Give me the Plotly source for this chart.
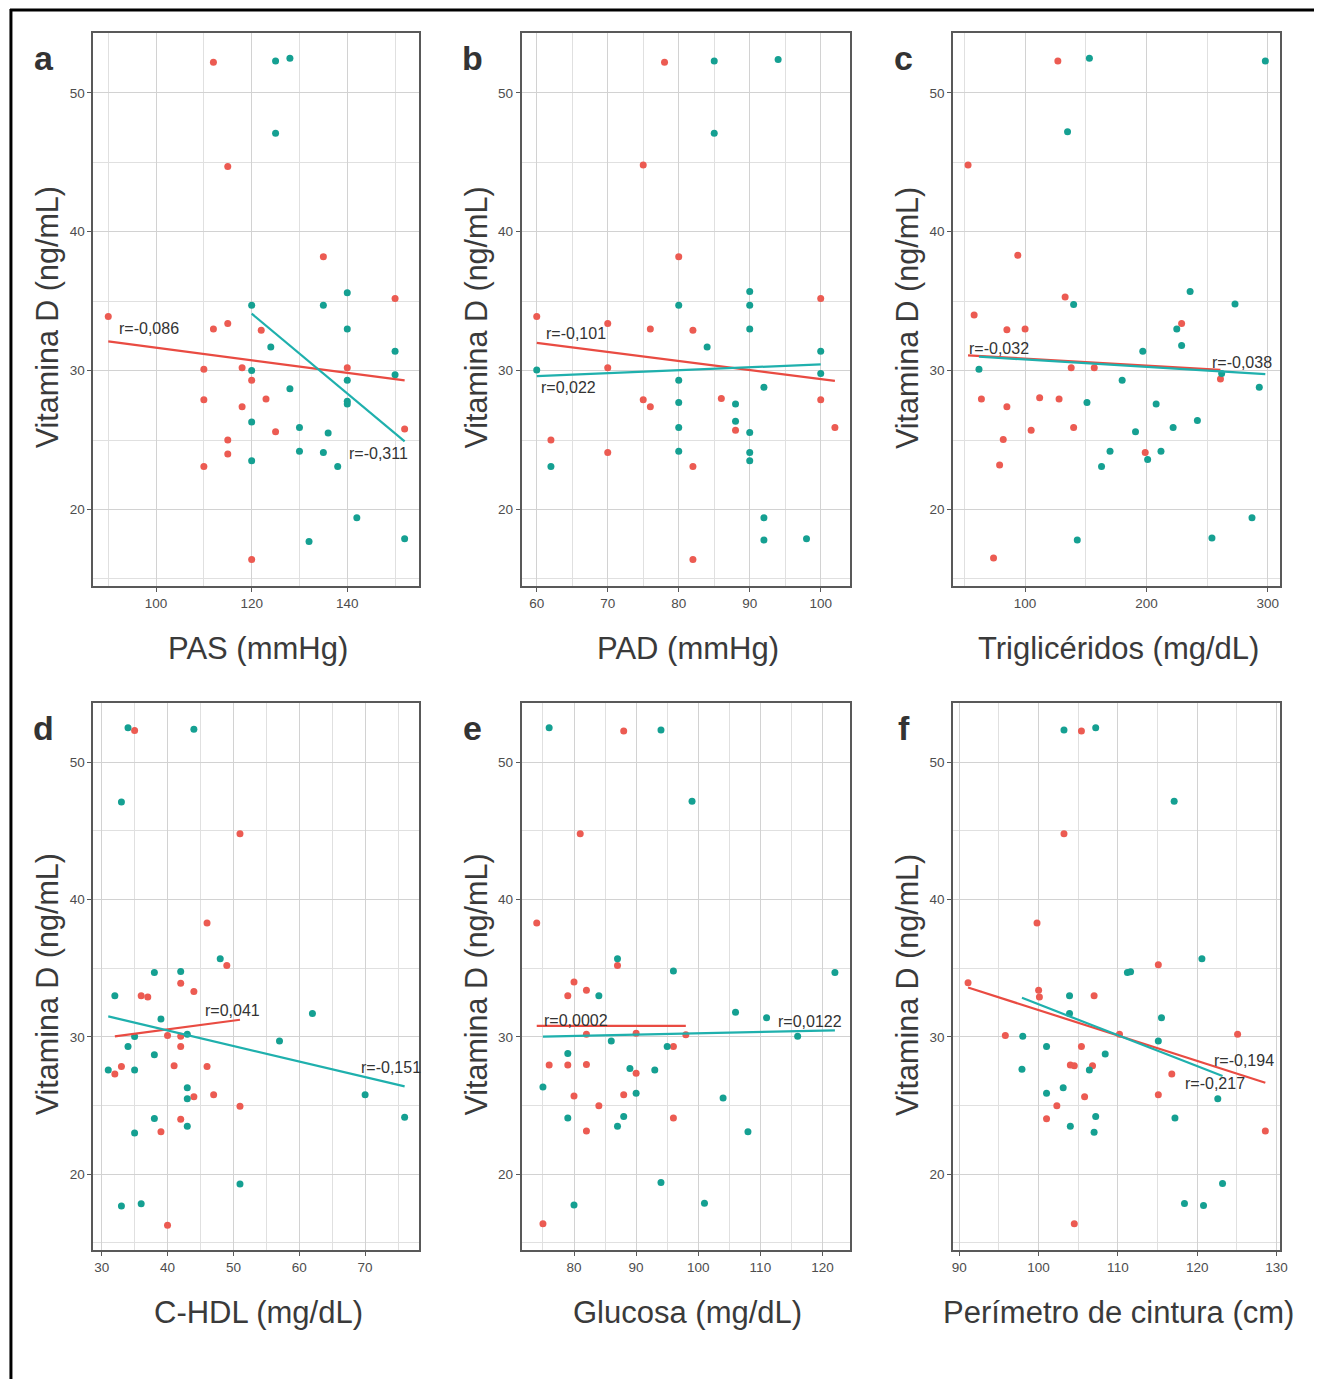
import plotly.graph_objects as go

W, H = 1321, 1379

# ---------------- data ----------------
# Panel a: PAS (mmHg)
a_red_x = [112, 115, 135, 150, 90, 112, 115, 122, 110, 118, 140, 120, 110, 123, 118, 125, 152, 115, 115, 110, 120]
a_red_y = [52.2, 44.7, 38.2, 35.2, 33.9, 33.0, 33.4, 32.9, 30.1, 30.2, 30.2, 29.3, 27.9, 27.95, 27.4, 25.6, 25.8, 25.0, 24.0, 23.1, 16.4]
a_teal_x = [125, 128, 125, 140, 120, 135, 124, 140, 150, 120, 150, 140, 128, 140, 140, 120, 130, 136, 120, 130, 135, 138, 142, 132, 152]
a_teal_y = [52.3, 52.5, 47.1, 35.6, 34.7, 34.7, 31.7, 33.0, 31.4, 30.0, 29.7, 29.3, 28.7, 27.8, 27.6, 26.3, 25.9, 25.5, 23.5, 24.2, 24.1, 23.1, 19.4, 17.7, 17.9]
a_red_fit = [32.1, 29.3]
a_teal_fit = [34.1, 24.9]
a_r_red, a_r_teal = "r=-0,086", "r=-0,311"

# Panel b: PAD (mmHg)
b_red_x = [78, 75, 80, 100, 60, 70, 76, 82, 70, 75, 76, 86, 100, 88, 102, 62, 70, 82, 82]
b_red_y = [52.2, 44.8, 38.2, 35.2, 33.9, 33.4, 33.0, 32.9, 30.2, 27.9, 27.4, 28.0, 27.9, 25.7, 25.9, 25.0, 24.1, 23.1, 16.4]
b_teal_x = [85, 94, 85, 90, 80, 90, 90, 84, 100, 60, 100, 80, 92, 80, 88, 88, 80, 90, 80, 90, 90, 62, 92, 92, 98]
b_teal_y = [52.3, 52.4, 47.1, 35.7, 34.7, 34.7, 33.0, 31.7, 31.4, 30.05, 29.8, 29.3, 28.8, 27.7, 27.6, 26.35, 25.9, 25.55, 24.2, 24.1, 23.5, 23.1, 19.4, 17.8, 17.9]
b_red_fit = [32.0, 29.26]
b_teal_fit = [29.6, 30.45]
b_r_red, b_r_teal = "r=-0,101", "r=0,022"

# Panel c: Triglicéridos (mg/dL)
c_red_x = [127, 53, 94, 133, 58, 85, 100, 229, 138, 157, 261, 64, 112, 128, 85, 105, 140, 82, 199, 79, 74]
c_red_y = [52.3, 44.8, 38.3, 35.3, 34.0, 32.95, 33.0, 33.4, 30.2, 30.2, 29.4, 27.96, 28.04, 27.96, 27.4, 25.7, 25.9, 25.04, 24.1, 23.2, 16.5]
c_teal_x = [153, 298, 135, 236, 140, 273, 225, 229, 197, 62, 262, 180, 293, 151, 208, 242, 222, 191, 170, 212, 201, 163, 287, 254, 143]
c_teal_y = [52.5, 52.3, 47.2, 35.7, 34.76, 34.8, 33.0, 31.8, 31.4, 30.1, 29.8, 29.3, 28.8, 27.7, 27.6, 26.4, 25.9, 25.6, 24.2, 24.2, 23.6, 23.1, 19.4, 17.95, 17.8]
c_red_fit = [31.1, 30.05]
c_teal_fit = [31.0, 29.75]
c_r_red, c_r_teal = "r=-0,032", "r=-0,038"

# Panel d: C-HDL (mg/dL)
d_red_x = [35, 51, 46, 49, 42, 44, 36, 37, 40, 42, 42, 33, 32, 41, 46, 44, 47, 51, 42, 39, 40]
d_red_y = [52.3, 44.8, 38.3, 35.2, 33.9, 33.3, 33.0, 32.9, 30.1, 30.05, 29.3, 27.85, 27.3, 27.9, 27.85, 25.65, 25.8, 24.95, 24.0, 23.1, 16.3]
d_teal_x = [34, 44, 33, 48, 38, 42, 32, 62, 39, 35, 43, 57, 34, 38, 31, 35, 43, 43, 70, 38, 76, 43, 35, 51, 33, 36]
d_teal_y = [52.5, 52.4, 47.1, 35.7, 34.7, 34.76, 33.0, 31.7, 31.3, 30.04, 30.2, 29.7, 29.3, 28.7, 27.6, 27.6, 26.3, 25.5, 25.8, 24.07, 24.15, 23.5, 23.0, 19.3, 17.7, 17.85]
d_red_fit = [30.04, 31.25]
d_teal_fit = [31.5, 26.4]
d_r_red, d_r_teal = "r=0,041", "r=-0,151"

# Panel e: Glucosa (mg/dL)
e_red_x = [88, 81, 74, 87, 80, 79, 82, 82, 90, 98, 96, 76, 79, 82, 90, 80, 88, 84, 96, 82, 75]
e_red_y = [52.27, 44.8, 38.3, 35.2, 34.0, 33.0, 33.4, 30.2, 30.27, 30.16, 29.3, 27.95, 27.95, 28.0, 27.36, 25.7, 25.8, 25.0, 24.1, 23.15, 16.4]
e_teal_x = [76, 94, 99, 87, 96, 122, 84, 106, 111, 116, 86, 79, 95, 89, 93, 75, 90, 104, 79, 88, 87, 108, 94, 80, 101]
e_teal_y = [52.5, 52.35, 47.15, 35.7, 34.8, 34.7, 33.0, 31.8, 31.4, 30.05, 29.7, 28.8, 29.3, 27.7, 27.6, 26.35, 25.9, 25.55, 24.1, 24.2, 23.5, 23.1, 19.4, 17.76, 17.9]
e_red_fit = [30.8, 30.8]
e_teal_fit = [30.03, 30.48]
e_r_red, e_r_teal = "r=0,0002", "r=0,0122"

# Panel f: Perímetro de cintura (cm)
f_red_x = [105.4, 103.2, 99.8, 115.1, 91.1, 100, 100.1, 107, 95.8, 110.2, 125.1, 105.4, 104, 104.5, 106.8, 116.8, 105.8, 115.1, 102.3, 101, 128.6, 104.5]
f_red_y = [52.27, 44.8, 38.3, 35.25, 33.95, 33.4, 32.9, 33.0, 30.1, 30.2, 30.2, 29.3, 27.95, 27.9, 27.9, 27.3, 25.65, 25.8, 25.0, 24.05, 23.15, 16.4]
f_teal_x = [103.2, 107.2, 117.1, 120.6, 111.2, 111.6, 103.9, 103.9, 115.5, 98, 115.1, 101, 108.4, 106.4, 97.9, 103.1, 101, 122.6, 107.2, 117.2, 104, 107, 123.2, 118.4, 120.8]
f_teal_y = [52.35, 52.5, 47.15, 35.7, 34.7, 34.75, 33.0, 31.7, 31.4, 30.05, 29.7, 29.3, 28.75, 27.6, 27.65, 26.3, 25.9, 25.5, 24.2, 24.1, 23.5, 23.07, 19.33, 17.87, 17.73]
f_red_fit = [33.6, 26.67]
f_teal_fit = [32.85, 27.15]
f_r_red, f_r_teal = "r=-0,194", "r=-0,217"

letters = ["a", "b", "c", "d", "e", "f"]
x_titles = ["PAS (mmHg)", "PAD (mmHg)", "Triglicéridos (mg/dL)",
            "C-HDL (mg/dL)", "Glucosa (mg/dL)", "Perímetro de cintura (cm)"]
y_title = "Vitamina D (ng/mL)"
x_major = [20, 10, 100, 10, 10, 10]
x_minor = [10, 5, 50, 5, 5, 5]
y_ticks = [20, 30, 40, 50]

panels = [
    (a_red_x, a_red_y, a_teal_x, a_teal_y, a_red_fit, a_teal_fit, a_r_red, a_r_teal),
    (b_red_x, b_red_y, b_teal_x, b_teal_y, b_red_fit, b_teal_fit, b_r_red, b_r_teal),
    (c_red_x, c_red_y, c_teal_x, c_teal_y, c_red_fit, c_teal_fit, c_r_red, c_r_teal),
    (d_red_x, d_red_y, d_teal_x, d_teal_y, d_red_fit, d_teal_fit, d_r_red, d_r_teal),
    (e_red_x, e_red_y, e_teal_x, e_teal_y, e_red_fit, e_teal_fit, e_r_red, e_r_teal),
    (f_red_x, f_red_y, f_teal_x, f_teal_y, f_red_fit, f_teal_fit, f_r_red, f_r_teal),
]

# label anchor positions in data units (left edge of text)
r_label_pos = [
    ((91.8, 33.0), (140.0, 24.05)),
    ((61.0, 32.7), (60.3, 28.8)),
    ((51.8, 31.6), (252.6, 30.6)),
    ((45.4, 31.9), (69.1, 27.8)),
    ((74.8, 31.2), (112.5, 31.1)),
    ((121.9, 28.27), (118.2, 26.6)),
]

# ---------------- styling / layout ----------------
RED_PT, TEAL_PT = "#ec5b52", "#15a092"
RED_LN, TEAL_LN = "#e94b42", "#1fb0ad"
FONT = "Liberation Sans, Arial, sans-serif"

col_px = [(93, 421), (524, 854), (958, 1287)]
row_px = [(33, 586), (703, 1250)]


def px2fx(p):
    return p / W


def px2fy(p):
    return 1 - p / H


fig = go.Figure()
layout = dict(
    width=W, height=H, margin=dict(l=0, r=0, t=0, b=0),
    paper_bgcolor="white", plot_bgcolor="white", showlegend=False,
    font=dict(family=FONT),
)
annotations = []
shapes = []

all_y = []
for p in panels:
    all_y += p[1] + p[3]
ymin, ymax = min(all_y), max(all_y)
yspan = ymax - ymin
y_range = [ymin - 0.05 * yspan, ymax + 0.05 * yspan]

for i, (rx, ry, tx, ty, rfit, tfit, rlab, tlab) in enumerate(panels):
    row, col = divmod(i, 3)
    x0p, x1p = col_px[col]
    y0p, y1p = row_px[row]
    xa = "x" if i == 0 else f"x{i+1}"
    ya = "y" if i == 0 else f"y{i+1}"
    xkey = "xaxis" if i == 0 else f"xaxis{i+1}"
    ykey = "yaxis" if i == 0 else f"yaxis{i+1}"

    xs = rx + tx
    xspan = max(xs) - min(xs)
    x_range = [min(xs) - 0.05 * xspan, max(xs) + 0.05 * xspan]

    common = dict(
        showline=True, linecolor="#595959", linewidth=2, mirror=True,
        ticks="outside", ticklen=4, tickwidth=1, tickcolor="#595959",
        tickfont=dict(family=FONT, size=13.5, color="#4d4d4d"),
        showgrid=True, gridcolor="#d2d2d2", gridwidth=1.1, zeroline=False,
    )
    layout[xkey] = dict(
        common, domain=[px2fx(x0p), px2fx(x1p)], anchor=ya, range=x_range,
        dtick=x_major[i], tick0=0,
        minor=dict(showgrid=True, dtick=x_minor[i], tick0=0, gridcolor="#e0e0e0", gridwidth=1, ticks=""),
    )
    layout[ykey] = dict(
        common, domain=[px2fy(y1p), px2fy(y0p)], anchor=xa, range=y_range,
        tickvals=y_ticks,
        minor=dict(showgrid=True, dtick=5, tick0=0, gridcolor="#e0e0e0", gridwidth=1, ticks=""),
    )

    # points
    fig.add_trace(go.Scatter(x=rx, y=ry, mode="markers", xaxis=xa, yaxis=ya,
                             marker=dict(size=7, color=RED_PT), hoverinfo="skip"))
    fig.add_trace(go.Scatter(x=tx, y=ty, mode="markers", xaxis=xa, yaxis=ya,
                             marker=dict(size=7, color=TEAL_PT), hoverinfo="skip"))
    # regression lines over each group's x extent
    fig.add_trace(go.Scatter(x=[min(rx), max(rx)], y=rfit, mode="lines", xaxis=xa, yaxis=ya,
                             line=dict(color=RED_LN, width=2.2), hoverinfo="skip"))
    fig.add_trace(go.Scatter(x=[min(tx), max(tx)], y=tfit, mode="lines", xaxis=xa, yaxis=ya,
                             line=dict(color=TEAL_LN, width=2.2), hoverinfo="skip"))

    # r labels
    for (lx, ly), txt in zip(r_label_pos[i], (rlab, tlab)):
        annotations.append(dict(x=lx, y=ly, xref=xa, yref=ya, text=txt, showarrow=False,
                                xanchor="left", yanchor="middle",
                                font=dict(family=FONT, size=16, color="#333333")))

    # panel letter
    annotations.append(dict(x=px2fx(x0p - 50), y=px2fy(y0p + 25), xref="paper", yref="paper",
                            text=f"<b>{letters[i]}</b>", showarrow=False,
                            xanchor="center", yanchor="middle",
                            font=dict(family=FONT, size=34, color="#333333")))
    # y title
    annotations.append(dict(x=px2fx(x0p - 46), y=px2fy((y0p + y1p) / 2 + 8), xref="paper", yref="paper",
                            text=y_title, showarrow=False, textangle=-90,
                            xanchor="center", yanchor="middle",
                            font=dict(family=FONT, size=30.5, color="#3a3a3a")))
    # x title
    annotations.append(dict(x=px2fx((x0p + x1p) / 2 + 2), y=px2fy(y1p + 62), xref="paper", yref="paper",
                            text=x_titles[i], showarrow=False,
                            xanchor="center", yanchor="middle",
                            font=dict(family=FONT, size=31, color="#3a3a3a")))

# outer frame (left and top edges visible in the reference)
shapes.append(dict(type="line", xref="paper", yref="paper", x0=px2fx(10), x1=px2fx(10),
                   y0=0, y1=px2fy(9), line=dict(color="black", width=3)))
shapes.append(dict(type="line", xref="paper", yref="paper", x0=px2fx(9), x1=1,
                   y0=px2fy(10), y1=px2fy(10), line=dict(color="black", width=3)))

layout["annotations"] = annotations
layout["shapes"] = shapes
fig.update_layout(**layout)
fig.write_html("out.html", config={"displayModeBar": False},
               post_script="document.body.style.margin='0px';document.body.style.overflow='hidden';")
